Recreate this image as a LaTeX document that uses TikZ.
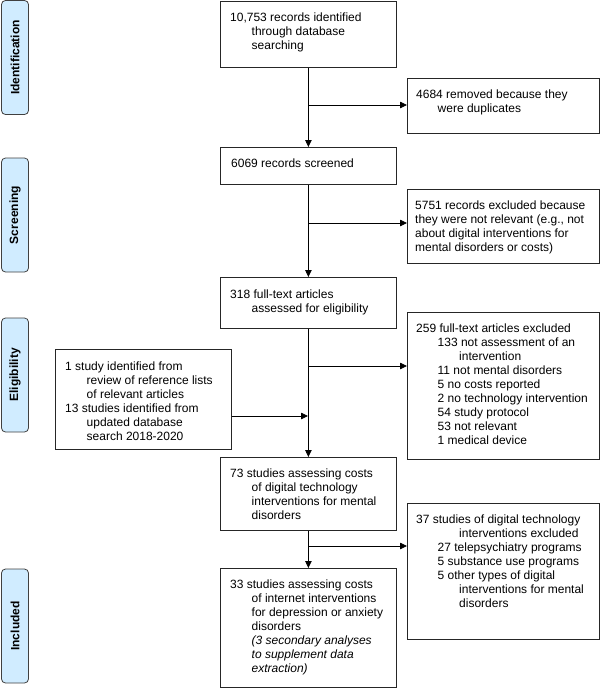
\documentclass[tikz,border=0pt]{standalone}
\usepackage{fontspec}
\setmainfont{Liberation Sans}
\usetikzlibrary{arrows.meta}
\definecolor{labblue}{RGB}{208,236,255}
\newcommand\ia{\hspace*{21.5pt}}
\newcommand\ib{\hspace*{43pt}}
\newcommand\tx[1]{\parbox[t]{190pt}{\raggedright #1}}
\begin{document}
\begin{tikzpicture}[x=1pt,y=-1pt,
  box/.style={draw=black!85, line width=0.8pt, anchor=north west, inner sep=0pt},
  txt/.style={anchor=base west, inner sep=0pt, font=\fontsize{12}{14}\selectfont},
  lab/.style={draw=black!75, line width=0.8pt, fill=labblue, rounded corners=4pt,
    rotate=90, minimum width=114pt, minimum height=27pt, inner sep=0pt,
    font=\bfseries\fontsize{12}{14}\selectfont},
  arr/.style={line width=0.8pt, -{Triangle[length=7pt,width=6.5pt]}}]
\useasboundingbox (0,0) rectangle (600,688);

% stage labels
\node[lab] (L1) at (15,57.5) {Identification};
\node[lab] (L2) at (15,215) {Screening};
\node[lab] (L3) at (15,375) {Eligibility};
\node[lab] (L4) at (15,626) {Included};

% boxes
\node[box, minimum width=176pt, minimum height=66pt] (A) at (220,1) {};
\node[box, minimum width=192pt, minimum height=55pt] (B) at (407,78) {};
\node[box, minimum width=176pt, minimum height=37pt] (C) at (220,147) {};
\node[box, minimum width=192pt, minimum height=74pt] (D) at (407,189) {};
\node[box, minimum width=176pt, minimum height=51pt] (E) at (220,277) {};
\node[box, minimum width=192pt, minimum height=147pt] (F) at (407,312) {};
\node[box, minimum width=176pt, minimum height=100pt] (G) at (55,349) {};
\node[box, minimum width=176pt, minimum height=73pt] (H) at (220,457) {};
\node[box, minimum width=192pt, minimum height=136pt] (I) at (407,503) {};
\node[box, minimum width=176pt, minimum height=119pt] (J) at (220,568) {};

% texts
\node[txt] (At) at ([shift={(10,20)}]A.north west) {\tx{10,753 records identified\\\ia through database\\\ia searching}};
\node[txt] (Bt) at ([shift={(9,20.5)}]B.north west) {\tx{4684 removed because they\\\ia were duplicates}};
\node[txt] (Ct) at ([shift={(11,20.5)}]C.north west) {\tx{6069 records screened}};
\node[txt] (Dt) at ([shift={(8,20)}]D.north west) {\tx{5751 records excluded because\\they were not relevant (e.g., not\\about digital interventions for\\mental disorders or costs)}};
\node[txt] (Et) at ([shift={(10,21)}]E.north west) {\tx{318 full-text articles\\\ia assessed for eligibility}};
\node[txt] (Ft) at ([shift={(9,20)}]F.north west) {\tx{259 full-text articles excluded\\\ia 133 not assessment of an\\\ib intervention\\\ia 11 not mental disorders\\\ia 5 no costs reported\\\ia 2 no technology intervention\\\ia 54 study protocol\\\ia 53 not relevant\\\ia 1 medical device}};
\node[txt] (Gt) at ([shift={(10,21)}]G.north west) {\tx{1 study identified from\\\ia review of reference lists\\\ia of relevant articles\\13 studies identified from\\\ia updated database\\\ia search 2018-2020}};
\node[txt] (Ht) at ([shift={(10,20)}]H.north west) {\tx{73 studies assessing costs\\\ia of digital technology\\\ia interventions for mental\\\ia disorders}};
\node[txt] (It) at ([shift={(9,20)}]I.north west) {\tx{37 studies of digital technology\\\ib interventions excluded\\\ia 27 telepsychiatry programs\\\ia 5 substance use programs\\\ia 5 other types of digital\\\ib interventions for mental\\\ib disorders}};
\node[txt] (Jt) at ([shift={(10,20)}]J.north west) {\tx{33 studies assessing costs\\\ia of internet interventions\\\ia for depression or anxiety\\\ia disorders\\\ia \textit{(3 secondary analyses}\\\ia \textit{to supplement data}\\\ia \textit{extraction)}}};

% main flow
\draw[arr] (A.south) -- (C.north);
\draw[arr] (C.south) -- (E.north);
\draw[arr] (E.south) -- (H.north);
\draw[arr] (H.south) -- (J.north);

% branches
\coordinate (jB) at (308,105);
\coordinate (jD) at (308,223);
\coordinate (jF) at (308,366);
\coordinate (jG) at (308,416);
\coordinate (jI) at (308,546);
\draw[arr] (jB) -- (jB -| B.west);
\draw[arr] (jD) -- (jD -| D.west);
\draw[arr] (jF) -- (jF -| F.west);
\draw[arr] (jG -| G.east) -- (jG);
\draw[arr] (jI) -- (jI -| I.west);
\end{tikzpicture}
\end{document}
